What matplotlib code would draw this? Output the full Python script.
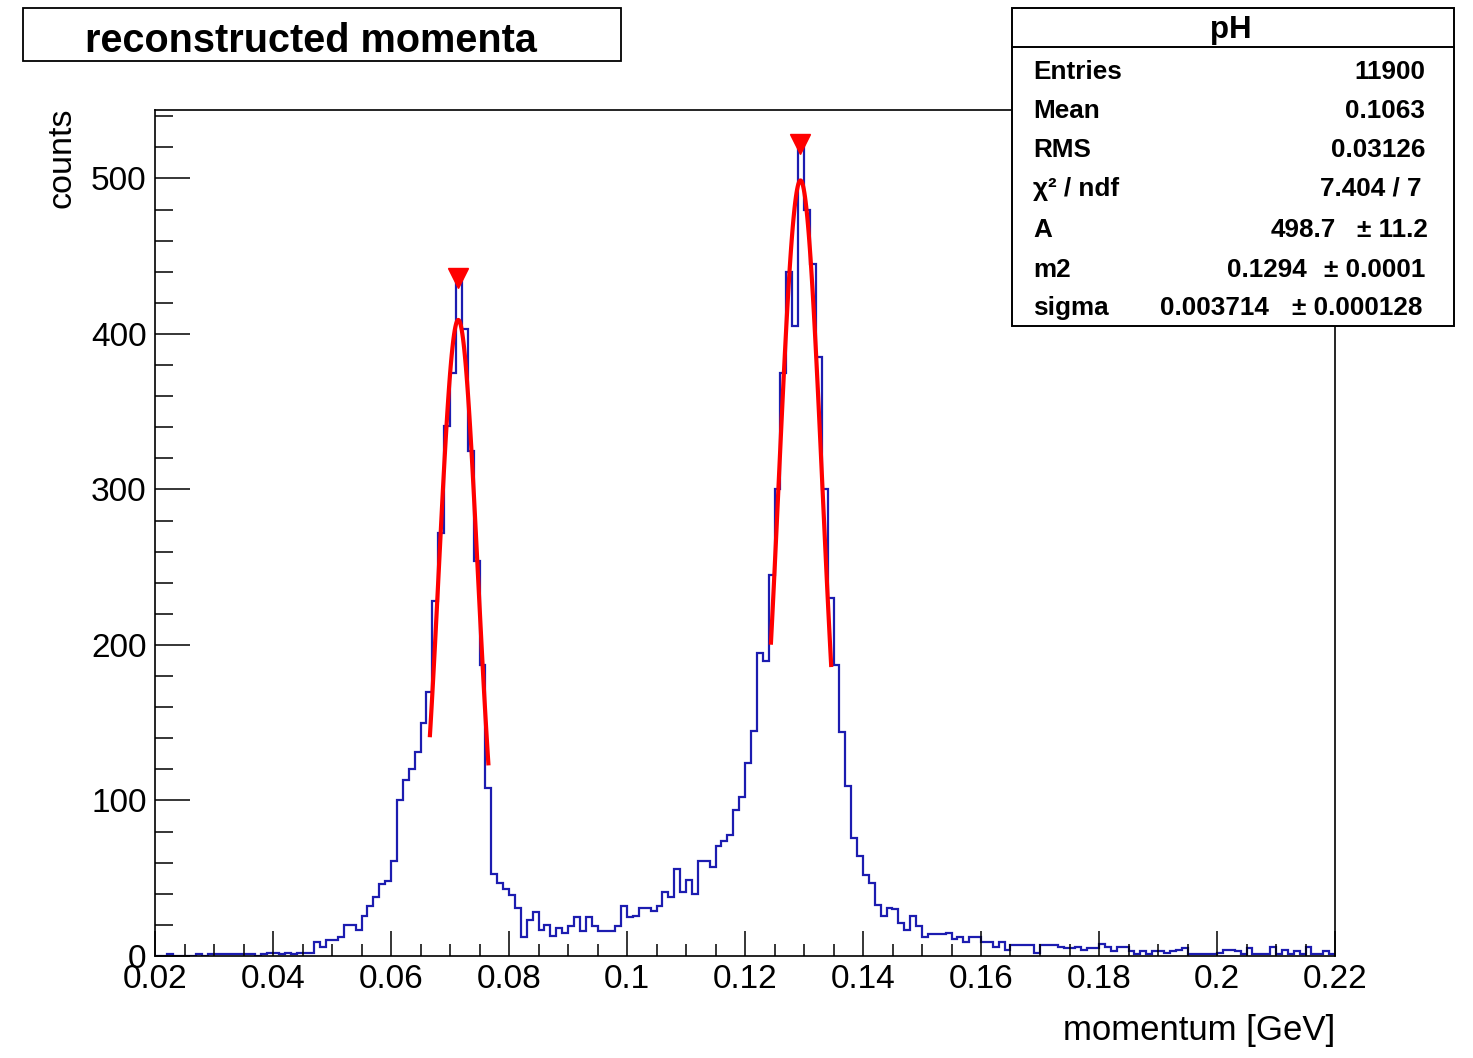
import numpy as np
import matplotlib.pyplot as plt
from matplotlib.patches import Rectangle
from matplotlib.lines import Line2D
from matplotlib.ticker import MultipleLocator, FuncFormatter

plt.rcParams['font.family'] = ['Liberation Sans', 'DejaVu Sans']

W, H = 1473, 1058

# histogram "pH": 200 bins from 0.02 to 0.22 GeV
x_lo, x_hi, n_bins = 0.02, 0.22, 200
counts = [
    0, 0, 1, 0, 0, 0, 0, 1, 0, 1,
    1, 1, 1, 1, 1, 1, 1, 0, 1, 2,
    2, 1, 2, 1, 2, 2, 2, 9, 6, 10,
    10, 12, 20, 20, 17, 26, 32, 38, 46, 48,
    61, 100, 113, 120, 131, 150, 170, 228, 272, 341,
    375, 437, 403, 325, 254, 187, 108, 53, 47, 43,
    39, 31, 12, 23, 28, 17, 20, 13, 18, 15,
    19, 25, 16, 25, 19, 16, 16, 16, 19, 32,
    25, 26, 31, 31, 29, 32, 41, 38, 56, 41,
    49, 40, 61, 61, 57, 71, 74, 78, 94, 102,
    124, 145, 195, 190, 245, 300, 375, 440, 405, 521,
    480, 445, 385, 300, 230, 187, 144, 109, 76, 64,
    52, 47, 33, 26, 31, 30, 21, 17, 26, 19,
    12, 14, 14, 14, 15, 11, 12, 9, 12, 12,
    9, 9, 6, 9, 4, 7, 7, 7, 7, 2,
    7, 7, 7, 6, 5, 5, 6, 4, 5, 5,
    8, 6, 3, 6, 6, 3, 1, 3, 1, 3,
    3, 2, 3, 4, 5, 1, 1, 1, 1, 1,
    2, 4, 4, 3, 1, 5, 1, 1, 1, 6,
    1, 4, 1, 3, 1, 6, 1, 1, 3, 1,
]

# peak markers (found peaks)
peak_x = [0.0714, 0.1294]
peak_y = [436, 522]

# gaussian fits drawn over the two peaks
fit1 = dict(A=409.0, m=0.0714, sigma=0.0033, lo=0.0666, hi=0.0765)
fit2 = dict(A=498.7, m=0.1294, sigma=0.003714, lo=0.1244, hi=0.1346)

stat_labels = ['Entries', 'Mean', 'RMS', 'χ² / ndf', 'A', 'm2', 'sigma']
stat_values = ['11900', '0.1063', '0.03126', '7.404 / 7', '498.7', '0.1294', '0.003714']
stat_errors = ['', '', '', '', '± 11.2', '± 0.0001', '± 0.000128']


def fx(px):
    return px / W


def fy(py):
    return 1 - py / H


fig = plt.figure(figsize=(W / 100, H / 100), dpi=100)
fig.patch.set_facecolor('white')
ax = fig.add_axes([fx(155), fy(956), fx(1335) - fx(155), fy(110) - fy(956)])

edges = np.linspace(x_lo, x_hi, n_bins + 1)
ax.stairs(counts, edges, color='#1c1cb0', lw=1.6)

for f in (fit1, fit2):
    xs = np.linspace(f['lo'], f['hi'], 100)
    ax.plot(xs, f['A'] * np.exp(-0.5 * ((xs - f['m']) / f['sigma']) ** 2), color='red', lw=3)

ax.plot(peak_x, peak_y, 'v', color='red', ms=14, clip_on=False)

ax.set_xlim(x_lo, x_hi)
ax.set_ylim(0, 544)

ax.xaxis.set_major_locator(MultipleLocator(0.02))
ax.xaxis.set_minor_locator(MultipleLocator(0.005))
ax.yaxis.set_major_locator(MultipleLocator(100))
ax.yaxis.set_minor_locator(MultipleLocator(20))
ax.xaxis.set_major_formatter(FuncFormatter(lambda v, p: f'{v:g}'))

ax.tick_params(which='both', direction='in', top=False, right=False, width=1.1, labelsize=24)
ax.tick_params(axis='x', which='major', length=18, pad=6)
ax.tick_params(axis='x', which='minor', length=9)
ax.tick_params(axis='y', which='major', length=25, pad=6)
ax.tick_params(axis='y', which='minor', length=13)
for s in ax.spines.values():
    s.set_linewidth(1.2)

fig.text(fx(1335), fy(1040), 'momentum [GeV]', ha='right', va='baseline', fontsize=25)
fig.text(fx(62), fy(108), 'counts', rotation=90, ha='center', va='top', fontsize=24.5)

# title box
fig.add_artist(Rectangle((fx(23), fy(61)), fx(621) - fx(23), fy(8) - fy(61),
                         transform=fig.transFigure, fc='white', ec='black', lw=1.3))
fig.text(fx(311), fy(52), 'reconstructed momenta', ha='center', va='baseline',
         fontsize=28.5, fontweight='bold')

# stats box
fig.add_artist(Rectangle((fx(1012), fy(326)), fx(1454) - fx(1012), fy(8) - fy(326),
                         transform=fig.transFigure, fc='white', ec='black', lw=1.4, zorder=5))
fig.add_artist(Line2D([fx(1012), fx(1454)], [fy(47), fy(47)], transform=fig.transFigure,
                      color='black', lw=1.4, zorder=6))
fig.text(fx(1231), fy(38), 'pH', ha='center', va='baseline', fontsize=22.5, fontweight='bold', zorder=7)

row_base = [79, 118, 157, 196, 237, 277, 315]
value_right = [1425, 1425, 1425, 1422, 1336, 1307, 1269]
error_right = [0, 0, 0, 0, 1428, 1425, 1422]
for lab, val, err, yb, vr, er in zip(stat_labels, stat_values, stat_errors, row_base, value_right, error_right):
    fig.text(fx(1033), fy(yb), lab, ha='left', va='baseline', fontsize=18.8, fontweight='bold', zorder=7)
    fig.text(fx(vr), fy(yb), val, ha='right', va='baseline', fontsize=18.8, fontweight='bold', zorder=7)
    if err:
        fig.text(fx(er), fy(yb), err, ha='right', va='baseline', fontsize=18.8, fontweight='bold', zorder=7)

fig.savefig('out.png', dpi=100)
